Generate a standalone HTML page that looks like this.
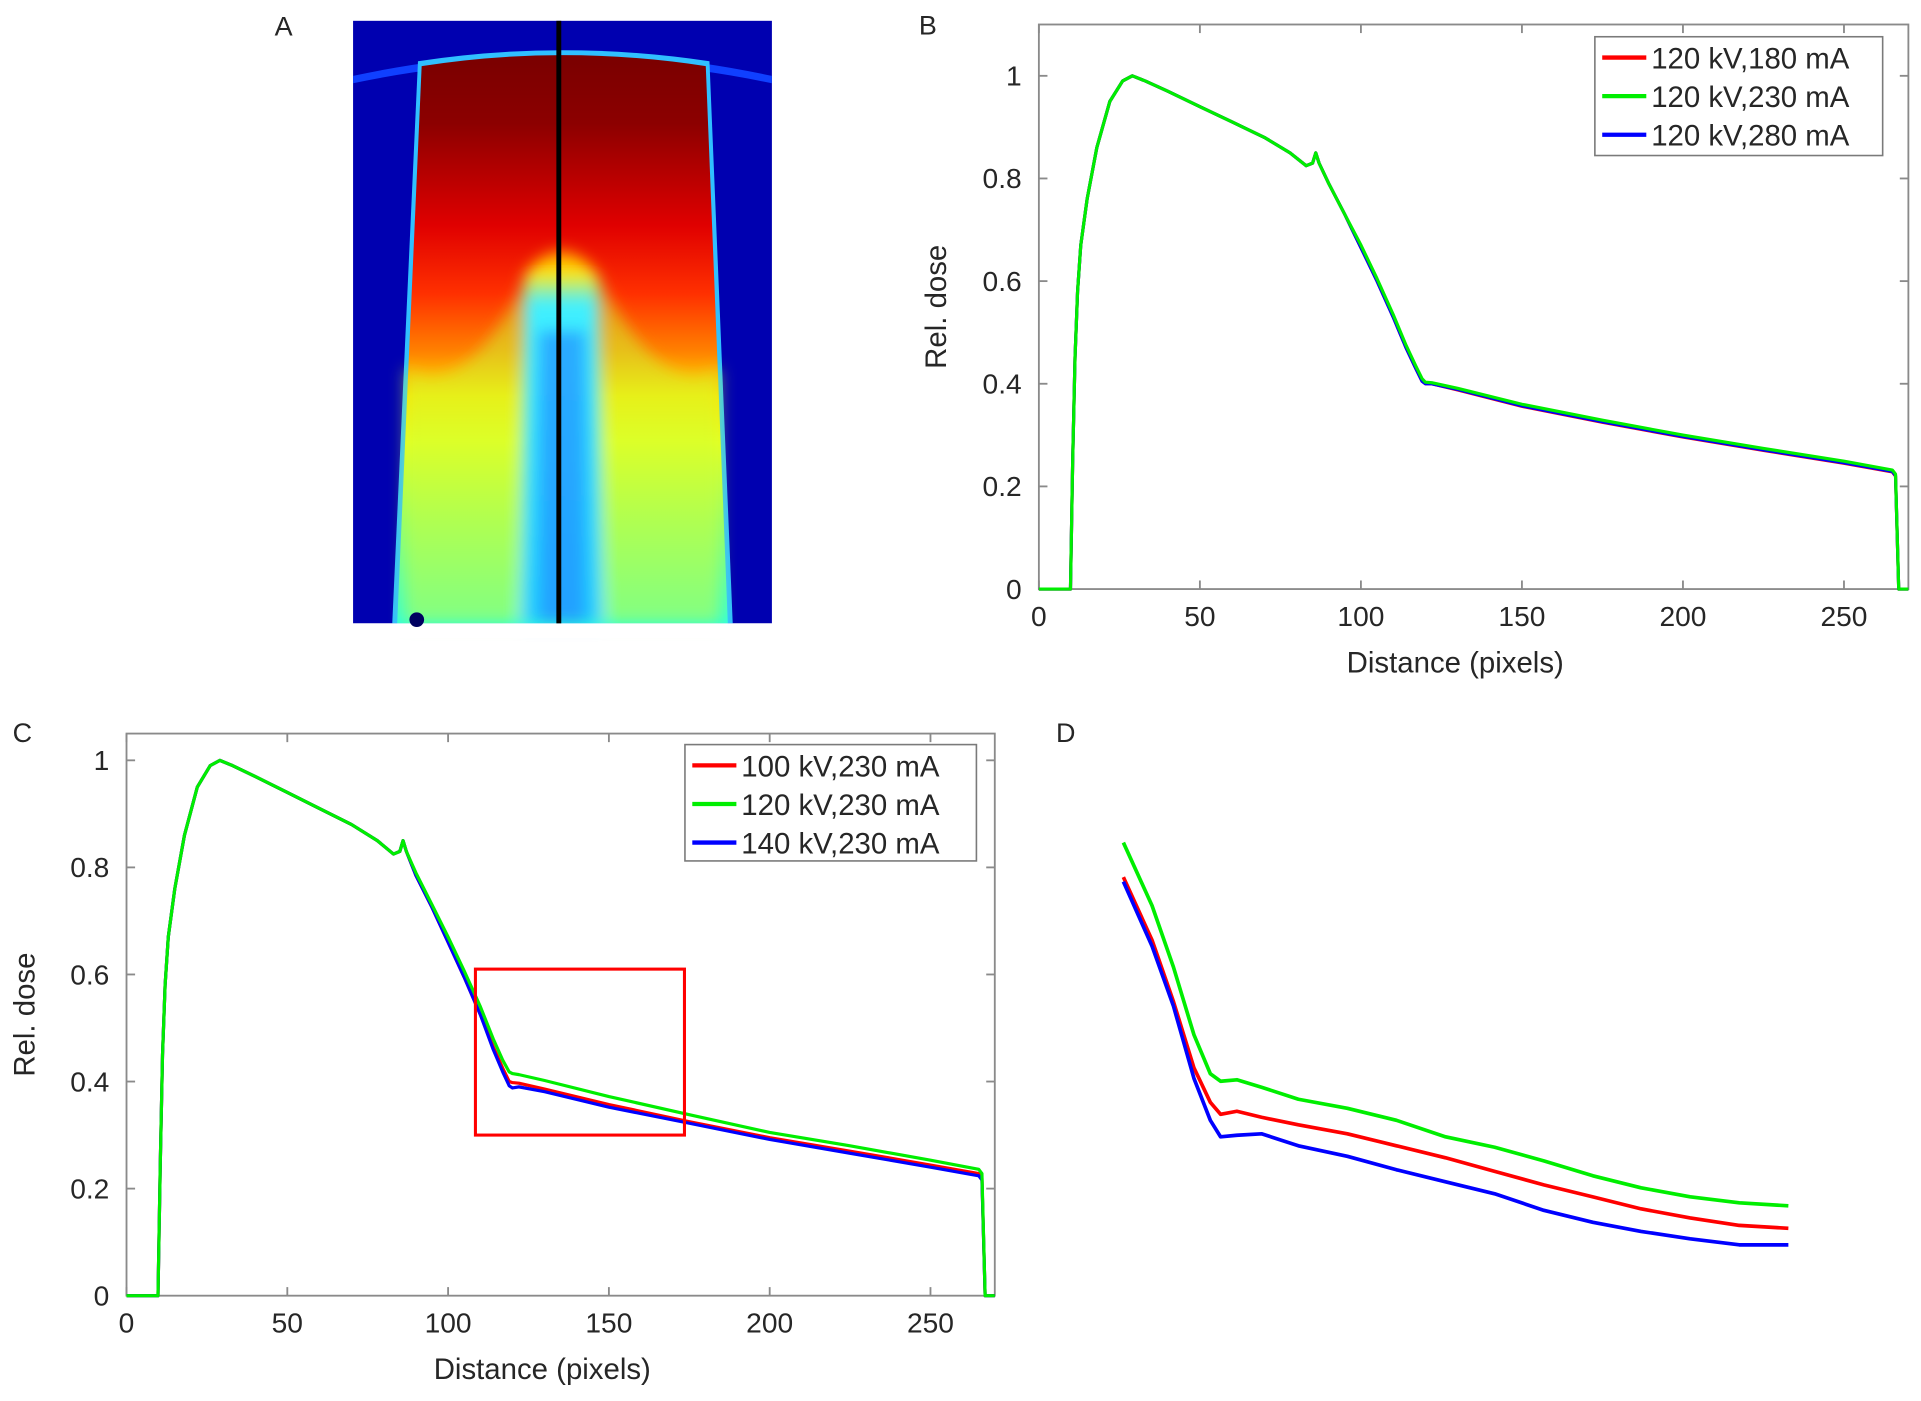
<!DOCTYPE html>
<html><head><meta charset="utf-8"><style>
html,body{margin:0;padding:0;background:#fff}
svg{display:block}
text{font-family:"Liberation Sans",sans-serif;fill:#262626}
</style></head><body>
<svg id="fig" width="1921" height="1401" viewBox="0 0 1568 1144" xmlns="http://www.w3.org/2000/svg">
<defs>
<linearGradient id="gA" x1="0" y1="0" x2="0" y2="1">
<stop offset="0" stop-color="#7a0000"/><stop offset="0.12" stop-color="#8c0000"/>
<stop offset="0.3" stop-color="#e00000"/><stop offset="0.42" stop-color="#ff3000"/>
<stop offset="0.52" stop-color="#ff8000"/><stop offset="0.6" stop-color="#ffe000"/>
<stop offset="0.68" stop-color="#e8ff20"/><stop offset="0.82" stop-color="#90ff70"/>
<stop offset="1" stop-color="#30ffd8"/></linearGradient>
<linearGradient id="gCv" x1="0" y1="0" x2="0" y2="1">
<stop offset="0" stop-color="#ff9000"/><stop offset="0.06" stop-color="#ffe800"/><stop offset="0.14" stop-color="#40f0ff"/><stop offset="1" stop-color="#20d0ff"/></linearGradient>
<filter id="blur"><feGaussianBlur stdDeviation="6"/></filter>
</defs>

<g>
<text x="224" y="29" font-size="22">A</text>
<rect x="288" y="17" width="342" height="492" fill="#0000b0"/>
<path d="M288,62 Q459,25 630,62 L630,68 Q459,32 288,68Z" fill="#1040ff"/>
<path d="M341,50 Q459,32 579,50 L598,509 L320,509Z" fill="#30c0ff"/>
<path d="M344,54 Q459,36 576,54 L594,509 L324,509Z" fill="url(#gA)"/>
<g filter="url(#blur)">
<path d="M330,300 Q380,330 430,225 L430,509 L330,509Z" fill="#d0ff30" opacity="0.5"/>
<path d="M588,300 Q540,330 488,225 L488,509 L588,509Z" fill="#d0ff30" opacity="0.5"/>
<path d="M425,509 L428,225 Q458,185 488,225 L492,509Z" fill="url(#gCv)"/>
<rect x="440" y="270" width="38" height="239" fill="#2080ff" opacity="0.6"/>
</g>
<rect x="288" y="509" width="342" height="12" fill="#fff"/>
<circle cx="340" cy="506" r="6" fill="#000060"/>
<rect x="454" y="17" width="4" height="492" fill="#000"/>
</g>

<g id="panelB"></g>
<g id="panelC"></g>
<g id="panelD">
<text x="862" y="606" font-size="22">D</text>
</g>
</svg>
<script>
const xMain = [0,9.8,10.5,11.2,12,13,15,18,22,26,29,33,40,50,60,70,78,83,85,86,87,90,95,100,105,110,114,117,119,120,122,130,150,175,200,225,250,265,266,267,270];
const b180 = [0,0,0.25,0.45,0.58,0.67,0.76,0.86,0.95,0.99,1.0,0.99,0.97,0.94,0.91,0.88,0.85,0.825,0.83,0.85,0.83,0.79,0.73,0.665,0.6,0.53,0.47,0.43,0.405,0.4,0.4,0.388,0.356,0.325,0.296,0.27,0.245,0.228,0.22,0,0];
const b230 = [0,0,0.25,0.45,0.58,0.67,0.76,0.86,0.95,0.99,1.0,0.99,0.97,0.94,0.91,0.88,0.85,0.825,0.83,0.85,0.83,0.79,0.73,0.67,0.605,0.535,0.475,0.435,0.41,0.403,0.402,0.391,0.36,0.329,0.3,0.274,0.249,0.232,0.224,0,0];
const b280 = [0,0,0.25,0.45,0.58,0.67,0.76,0.86,0.95,0.99,1.0,0.99,0.97,0.94,0.91,0.88,0.85,0.825,0.83,0.85,0.83,0.79,0.73,0.665,0.6,0.53,0.47,0.43,0.405,0.4,0.4,0.389,0.357,0.326,0.297,0.271,0.246,0.229,0.221,0,0];
const c100 = [0,0,0.25,0.45,0.58,0.67,0.76,0.86,0.95,0.99,1.0,0.99,0.97,0.94,0.91,0.88,0.85,0.825,0.83,0.85,0.83,0.785,0.725,0.66,0.595,0.525,0.465,0.425,0.4,0.398,0.397,0.386,0.357,0.325,0.295,0.27,0.244,0.228,0.22,0,0];
const c120 = [0,0,0.25,0.45,0.58,0.67,0.76,0.86,0.95,0.99,1.0,0.99,0.97,0.94,0.91,0.88,0.85,0.825,0.83,0.85,0.83,0.79,0.73,0.67,0.607,0.54,0.48,0.44,0.418,0.415,0.413,0.402,0.372,0.338,0.305,0.28,0.253,0.236,0.228,0,0];
const c140 = [0,0,0.25,0.45,0.58,0.67,0.76,0.86,0.95,0.99,1.0,0.99,0.97,0.94,0.91,0.88,0.85,0.825,0.83,0.85,0.83,0.785,0.725,0.66,0.595,0.525,0.46,0.418,0.392,0.388,0.39,0.381,0.352,0.322,0.292,0.266,0.24,0.224,0.216,0,0];
const xTicks = [0,50,100,150,200,250];
const yTicks = [0,0.2,0.4,0.6,0.8,1];
const yTickLabels = ["0","0.2","0.4","0.6","0.8","1"];
const legendB = ["120 kV,180 mA","120 kV,230 mA","120 kV,280 mA"];
const legendC = ["100 kV,230 mA","120 kV,230 mA","140 kV,230 mA"];
const zoomBox = [108.5,173.5,0.30,0.61];
const xD = [108,110.8,112.9,114.9,116.5,117.5,119.1,121.5,125.1,129.9,134.7,139.5,144.3,149.1,153.9,158.6,163.4,168.2,173];
const d120 = [0.579,0.537,0.496,0.451,0.425,0.420,0.421,0.416,0.408,0.402,0.394,0.383,0.376,0.367,0.357,0.349,0.343,0.339,0.337];
const d100 = [0.556,0.514,0.473,0.429,0.406,0.398,0.400,0.396,0.391,0.385,0.377,0.369,0.360,0.351,0.343,0.335,0.329,0.324,0.322];
const d140 = [0.553,0.510,0.470,0.422,0.394,0.383,0.384,0.385,0.377,0.370,0.361,0.353,0.345,0.334,0.326,0.320,0.315,0.311,0.311];

const NS="http://www.w3.org/2000/svg";
function mk(tag,parent,attrs){const e=document.createElementNS(NS,tag);for(const k in attrs)e.setAttribute(k,attrs[k]);parent.appendChild(e);return e;}
function scale(d0,d1,r0,r1){return v=>r0+(v-d0)/(d1-d0)*(r1-r0);}
function linePath(xs,ys,sx,sy){return xs.map((x,i)=>(i?'L':'M')+sx(x).toFixed(1)+','+sy(ys[i]).toFixed(1)).join('');}

function drawPanel(g,opt){
  const sx=scale(0,270,opt.L,opt.R), sy=scale(0,opt.ymax,opt.B,opt.T);
  const lbl=mk('text',g,{x:opt.lx,y:opt.ly,'font-size':22});
  lbl.textContent=opt.label;
  
  
  const box=mk('rect',g,{x:opt.L,y:opt.T,width:opt.R-opt.L,height:opt.B-opt.T,fill:'#fff',stroke:'#8a8a8a','stroke-width':1.5});
  
  
  xTicks.forEach(t=>{
    const x=sx(t);
    mk('line',g,{x1:x,x2:x,y1:opt.B,y2:opt.B-7,stroke:'#8a8a8a','stroke-width':1.5});
    mk('line',g,{x1:x,x2:x,y1:opt.T,y2:opt.T+7,stroke:'#8a8a8a','stroke-width':1.5});
    const tx=mk('text',g,{x:x,y:opt.B+30,'font-size':23,'text-anchor':'middle'});
    tx.textContent=String(t);
    
    
  });
  yTicks.forEach((t,i)=>{
    const y=sy(t);
    mk('line',g,{x1:opt.L,x2:opt.L+7,y1:y,y2:y,stroke:'#8a8a8a','stroke-width':1.5});
    mk('line',g,{x1:opt.R,x2:opt.R-7,y1:y,y2:y,stroke:'#8a8a8a','stroke-width':1.5});
    const ty=mk('text',g,{x:opt.L-14,y:y+8,'font-size':23,'text-anchor':'end'});
    ty.textContent=yTickLabels[i];
    
    
  });
  const xt=mk('text',g,{x:(opt.L+opt.R)/2-15,y:opt.B+68,'font-size':24,'text-anchor':'middle'});
  xt.textContent='Distance (pixels)';
  
  
  const yc=(opt.T+opt.B)/2;
  const yt=mk('text',g,{x:opt.yx,y:yc,'font-size':24,'text-anchor':'middle',transform:`rotate(-90 ${opt.yx} ${yc})`});
  yt.textContent='Rel. dose';
  
  
  const order=[0,2,1];
  order.forEach(k=>{
    const p=mk('path',g,{d:linePath(xMain,opt.series[k],sx,sy),fill:'none',stroke:['#ff0000','#00ee00','#0000ff'][k],'stroke-width':2.6,'stroke-linejoin':'round'});
    
    
  });
  if(opt.zoom){
    const zr=mk('rect',g,{x:sx(zoomBox[0]),y:sy(zoomBox[3]),width:sx(zoomBox[1])-sx(zoomBox[0]),height:sy(zoomBox[2])-sy(zoomBox[3]),fill:'none',stroke:'#ff0000','stroke-width':2.5});
    
    
  }
  const lg=mk('g',g,{});
  
  
  mk('rect',lg,{x:opt.leg[0],y:opt.leg[1],width:opt.leg[2],height:opt.leg[3],fill:'#fff',stroke:'#7a7a7a','stroke-width':1.3});
  const lc=['#ff0000','#00ee00','#0000ff'];
  opt.names.forEach((n,i)=>{
    const y=opt.leg[1]+17+i*31.5;
    const ln=mk('line',lg,{x1:opt.leg[0]+6,x2:opt.leg[0]+42,y1:y,y2:y,stroke:lc[i],'stroke-width':3.5});
    
    
    const t=mk('text',lg,{x:opt.leg[0]+46,y:y+9,'font-size':24});
    t.textContent=n;
    
    
  });
}
drawPanel(document.getElementById('panelB'),{L:848,R:1558,T:20,B:481,ymax:1.1,label:'B',lx:750,ly:28,yx:772,
  series:[b180,b230,b280],names:legendB,leg:[1302,30,235,97]});
drawPanel(document.getElementById('panelC'),{L:103,R:812,T:599,B:1058,ymax:1.05,label:'C',lx:10,ly:606,yx:28,
  series:[c100,c120,c140],names:legendC,leg:[559,608,238,95],zoom:true});
(function(){
  const g=document.getElementById('panelD');
  const sx=scale(108,173,917,1460), sy=scale(0.30,0.61,1030,650);
  [[d100,'#ff0000','d-100kv'],[d140,'#0000ff','d-140kv'],[d120,'#00ee00','d-120kv']].forEach(s=>{
    const p=mk('path',g,{d:linePath(xD,s[0],sx,sy),fill:'none',stroke:s[1],'stroke-width':3,'stroke-linejoin':'round'});
    
    
  });
})();
</script>
</body></html>
